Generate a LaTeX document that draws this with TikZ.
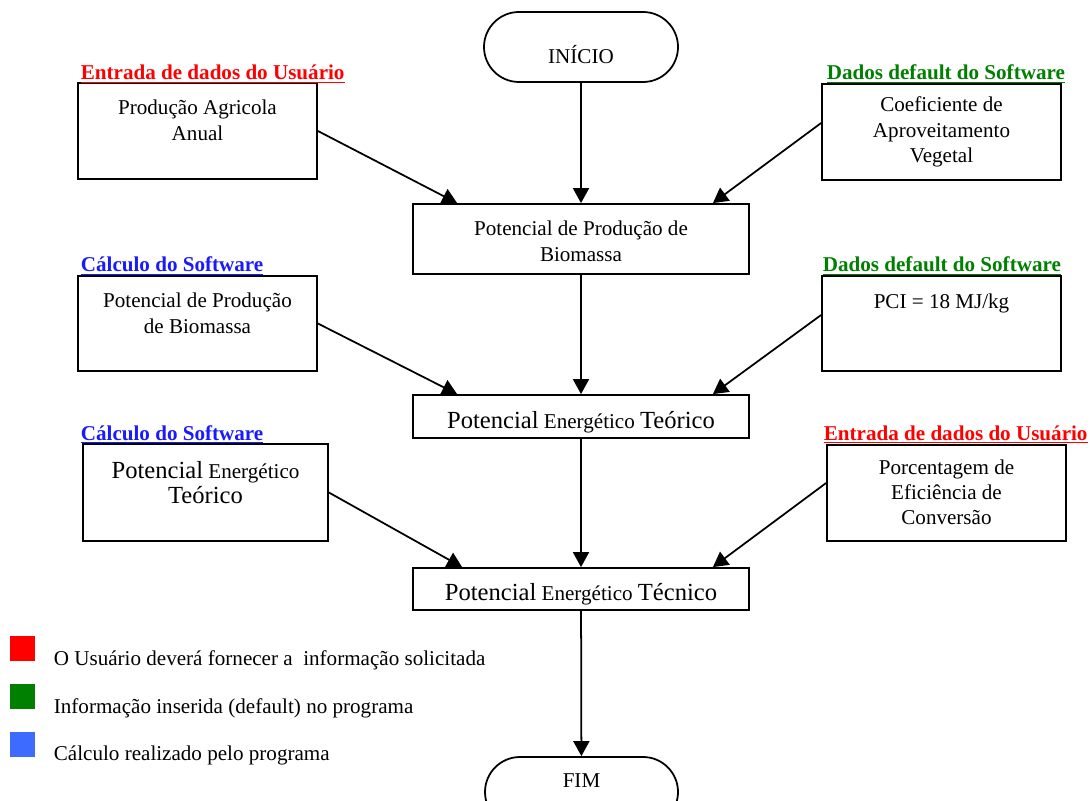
\documentclass[tikz,border=0pt]{standalone}
\usepackage{fontspec}
\setmainfont{Liberation Serif}
\usetikzlibrary{arrows.meta}
\definecolor{vermelho}{RGB}{255,0,0}
\definecolor{verde}{RGB}{0,128,0}
\definecolor{azul}{RGB}{26,26,255}
\definecolor{azulclaro}{RGB}{61,107,255}
\newcommand{\texto}[4][6mm]{\parbox[c][#2][t]{#3}{\centering\rule{0pt}{#1}#4}}
\newcommand{\grande}[1]{{\fontsize{14}{16}\selectfont #1}}
\newcommand{\titulo}[1]{\underline{\textbf{#1}}}

\begin{document}
\begin{tikzpicture}[x=0.2mm, y=-0.2mm, line width=1pt,
    font=\fontsize{12}{14.5}\selectfont,
    bloco/.style={draw, inner sep=0pt},
    cabec/.style={anchor=base west, inner sep=0pt},
    legenda/.style={anchor=base west, inner sep=0pt},
    quad/.style={minimum size=5mm, inner sep=0pt},
    seta/.style={-{Triangle[length=3mm,width=3.2mm]}}]
  \clip (0,0) rectangle (1091,801);
  % fluxo central
  \node[bloco, rounded corners=7mm] (ini) at (581,47)
    {\texto[10.4mm]{14mm}{38.8mm}{INÍCIO}};
  \node[bloco] (pbio) at (581,239)
    {\texto[6.4mm]{14mm}{67.2mm}{Potencial de Produção de\\Biomassa}};
  \node[bloco] (pet) at (581,416.5)
    {\texto[6.6mm]{8.6mm}{67.2mm}{\grande{Potencial} Energético \grande{Teórico}}};
  \node[bloco] (ptec) at (581,589)
    {\texto[6.4mm]{8.4mm}{67.2mm}{\grande{Potencial} Energético \grande{Técnico}}};
  \node[bloco, rounded corners=7mm] (fim) at (581.5,792)
    {\texto[6mm]{14mm}{38.6mm}{FIM}};
  % entradas
  \node[bloco] (agr) at (197.5,131)
    {\texto[6.4mm]{19.2mm}{47.8mm}{Produção Agricola\\Anual}};
  \node[bloco] (coef) at (941.5,132)
    {\texto[5.6mm]{19.2mm}{47.8mm}{Coeficiente de\\Aproveitamento\\Vegetal}};
  \node[bloco] (bio) at (197.5,323.5)
    {\texto[6.4mm]{19mm}{47.8mm}{Potencial de Produção\\de Biomassa}};
  \node[bloco] (pci) at (941.5,323.5)
    {\texto[6.5mm]{19mm}{47.8mm}{PCI = 18 MJ/kg}};
  \node[bloco] (teo) at (205.5,492.5)
    {\texto[6.8mm]{19.4mm}{49mm}{\grande{Potencial} Energético\\\grande{Teórico}}};
  \node[bloco] (efic) at (946.5,493)
    {\texto[5.8mm]{19.2mm}{47.8mm}{Porcentagem de\\Eficiência de\\Conversão}};
  % cabecalhos
  \node[cabec, text=vermelho] (cagr) at (80,80) {\titulo{Entrada de dados do Usuário}};
  \node[cabec, text=verde] (ccoef) at (826,80) {\titulo{Dados default do Software}};
  \node[cabec, text=azul] (cbio) at (80,272) {\titulo{Cálculo do Software}};
  \node[cabec, text=verde] (cpci) at (822,272) {\titulo{Dados default do Software}};
  \node[cabec, text=azul] (cteo) at (80,440) {\titulo{Cálculo do Software}};
  \node[cabec, text=vermelho] (cefic) at (823,440) {\titulo{Entrada de dados do Usuário}};
  % legenda
  \node[quad, fill=vermelho] (qverm) at (22.5,648) {};
  \node[quad, fill=verde] (qverd) at (22.5,696) {};
  \node[quad, fill=azulclaro] (qazul) at (22.5,744.5) {};
  \node[legenda] (lverm) at (53,665) {O Usuário deverá fornecer a\ \ informação solicitada};
  \node[legenda] (lverd) at (53,713) {Informação inserida (default) no programa};
  \node[legenda] (lazul) at (53,760) {Cálculo realizado pelo programa};
  % setas
  \draw[seta] (ini) -- (pbio);
  \draw[seta] (agr.east) -- ([xshift=9mm]pbio.north west);
  \draw[seta] ([yshift=1.8mm]coef.west) -- ([xshift=-7.4mm]pbio.north east);
  \draw[seta] (pbio) -- (pet);
  \draw[seta] (bio.east) -- ([xshift=9mm]pet.north west);
  \draw[seta] ([yshift=1.7mm]pci.west) -- ([xshift=-7.4mm]pet.north east);
  \draw[seta] (pet) -- (ptec);
  \draw[seta] (teo.east) -- ([xshift=10mm]ptec.north west);
  \draw[seta] ([yshift=2mm]efic.west) -- ([xshift=-7.4mm]ptec.north east);
  \draw[seta] (ptec) -- (fim);
\end{tikzpicture}
\end{document}
